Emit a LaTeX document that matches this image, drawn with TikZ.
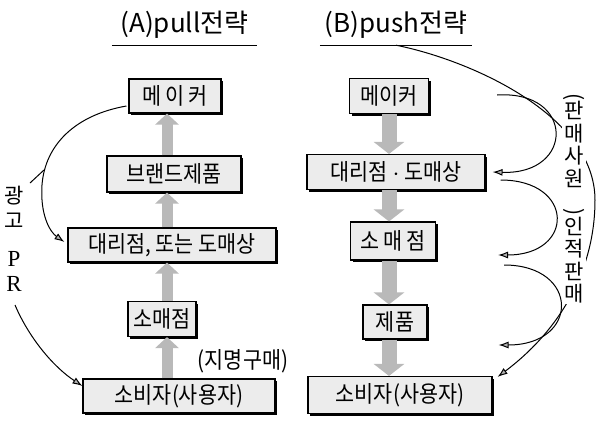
\documentclass[tikz,border=0pt]{standalone}
\usepackage{fontspec}
\setmainfont{Noto Sans CJK KR}
\newfontfamily\boxfont[FakeStretch=0.9]{Noto Sans CJK KR}
\newfontfamily\prfont{Liberation Serif}
\usepackage{graphicx}
\usetikzlibrary{arrows.meta,calc,shadows}

\begin{document}
\begin{tikzpicture}[x=1pt,y=-1pt,
    box/.style = {draw, line width=1.1pt, fill=gray!15, inner sep=0pt, font=\boxfont\fontsize{23}{23}\selectfont,
                  drop shadow={shadow xshift=2pt, shadow yshift=-2pt, fill=black, opacity=1}},
    pullarrow/.style = {line width=11pt, gray!55, -{Triangle[width=23pt,length=11pt]}},
    pusharrow/.style = {line width=15pt, gray!55, -{Triangle[width=30pt,length=12pt]}},
    curvearrow/.style = {line width=1pt, -{Latex[length=10pt,width=7pt,fill=gray!60]}},
    title/.style = {font=\fontsize{26}{26}\selectfont, anchor=base, text depth=5pt, inner ysep=8pt}]

    \useasboundingbox (0,0) rectangle (598,424);

    % Überschriften mit Unterstrich
    \node[title, minimum width=145pt] (titleA) at (184.5,32) {(A)pull전략};
    \node[title, minimum width=152pt] (titleB) at (396,32) {(B)push전략};
    \draw[line width=1pt] (titleA.south west) -- (titleA.south east);
    \draw[line width=1pt] (titleB.south west) -- (titleB.south east);

    % (A) pull: Kästen
    \coordinate (axA) at (167,0);
    \node (makerA) at (175,96) [box, minimum width=92pt, minimum height=34pt] {메\,이\,커};
    \node (brandA) at (174,174) [box, minimum width=134pt, minimum height=36pt] {브랜드제품};
    \node (dealerA) at (172,245) [box, minimum width=208pt, minimum height=34pt] {대리점, 또는 도매상};
    \node (retailA) at (162,319) [box, minimum width=68pt, minimum height=35pt] {소매점};
    \node (consumerA) at (179,396) [box, minimum width=192pt, minimum height=34pt] {소비자(사용자)};

    % (A) graue Pfeile nach oben
    \draw[pullarrow] (brandA.north -| axA) -- (makerA.south -| axA);
    \draw[pullarrow] (dealerA.north -| axA) -- (brandA.south -| axA);
    \draw[pullarrow] (retailA.north -| axA) -- (dealerA.south -| axA);
    \draw[pullarrow] (consumerA.north -| axA) -- (retailA.south -| axA);
    \node (nameBuy) at (243,361) [font=\boxfont\fontsize{23}{23}\selectfont] {(지명구매)};

    % (A) Werbung / PR
    \draw[curvearrow] ($(makerA.west)+(-2,10)$) .. controls (75,115) and (45,145) .. (42,185)
        .. controls (40,215) and (50,232) .. ($(dealerA.west)+(-3,-3)$);
    \coordinate (adTip) at (30,183);
    \draw[line width=1pt] (adTip) -- ++(14,-13);
    \coordinate (prTip) at (15,305);
    \draw[curvearrow] (prTip) .. controls (30,340) and (55,368) .. ($(consumerA.west)+(0,-10)$);
    \node (adLbl) at (14,186) [anchor=north, align=center, inner sep=0pt, font=\fontsize{21}{25}\selectfont]
        {광\\고\\[13pt]{\prfont\fontsize{23}{25}\selectfont P}\\{\prfont\fontsize{23}{25}\selectfont R}};

    % (B) push: Kästen
    \coordinate (axB) at (389,0);
    \node (makerB) at (389,96) [box, minimum width=79pt, minimum height=35pt] {메이커};
    \node (dealerB) at (396,172) [box, minimum width=178pt, minimum height=35pt] {대리점 $\cdot$ 도매상};
    \node (retailB) at (393,241) [box, minimum width=85pt, minimum height=38pt] {소\,매\,점};
    \node (productB) at (395,322) [box, minimum width=64pt, minimum height=34pt] {제품};
    \node (consumerB) at (400,395) [box, minimum width=184pt, minimum height=37pt] {소비자(사용자)};

    % (B) graue Pfeile nach unten
    \draw[pusharrow] (makerB.south -| axB) -- (dealerB.north -| axB);
    \draw[pusharrow] (dealerB.south -| axB) -- (retailB.north -| axB);
    \draw[pusharrow] (retailB.south -| axB) -- (productB.north -| axB);
    \draw[pusharrow] (productB.south -| axB) -- (consumerB.north -| axB);

    % (B) Bögen rechts
    \draw[curvearrow] ($(makerB.east)+(68,-1)$) .. controls (575,90) and (575,175) .. ($(dealerB.east)+(7,0)$);
    \draw[curvearrow] ($(dealerB.east)+(15,8)$) .. controls (575,180) and (575,255) .. ($(retailB.east)+(62,14)$);
    \draw[curvearrow] ($(retailB.east)+(68,24)$) .. controls (580,265) and (580,345) .. ($(productB.east)+(71,23)$);
    \draw[curvearrow] (titleB.south) .. controls (470,60) and (595,115) .. (595,200)
        .. controls (595,270) and (560,330) .. ($(consumerB.north east)+(5,1)$);

    % senkrechte Beschriftung
    \node (salesLbl) at (574,92) [anchor=north, align=center, fill=white, inner sep=1pt,
        font=\fontsize{21}{22.5}\selectfont]
        {\rotatebox{-90}{(}\\판\\매\\사\\원\\\rotatebox{-90}{)}\\인\\적\\판\\매};
\end{tikzpicture}
\end{document}
